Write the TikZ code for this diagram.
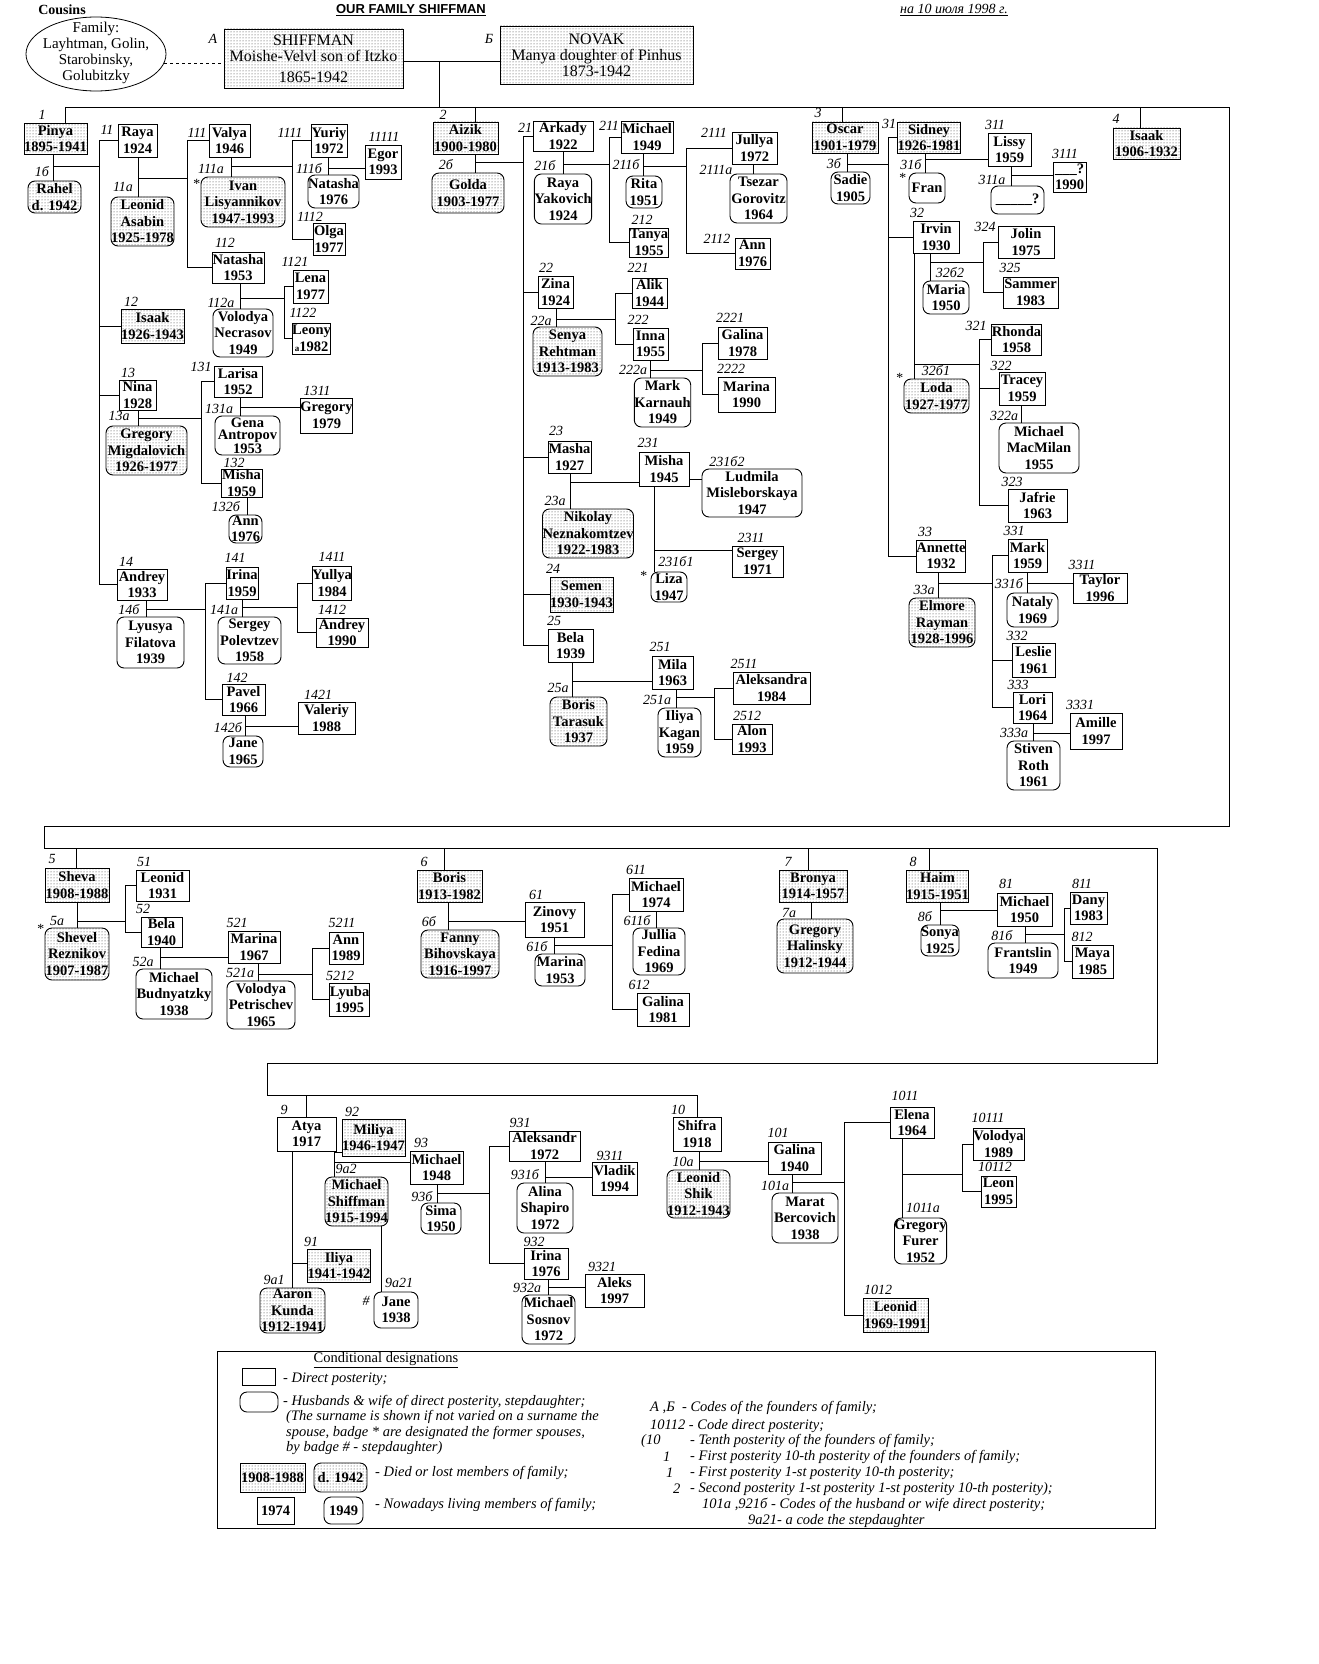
\documentclass[tikz,border=0pt]{standalone}
\usepackage{fontspec}
\setmainfont{Liberation Serif}
\newfontfamily\ttlfam{Liberation Sans}
\usetikzlibrary{patterns}
\newcommand\nmfont{\bfseries\fontsize{14.5}{16.5}\selectfont}
\newcommand\cdfont{\itshape\fontsize{14}{14}\selectfont}
\newcommand\fdfont{\fontsize{16}{16}\selectfont}
\newcommand\lgfont{\itshape\fontsize{14.5}{15}\selectfont}
\tikzset{
  ln/.style={line width=0.8pt},
  box/.style={draw, line width=0.9pt, inner sep=0pt, align=center, font=\nmfont},
  sq/.style={box},
  rd/.style={box, rounded corners=7pt},
  dd/.style={pattern=dots, pattern color=black!80},
  code/.style={inner sep=0pt, font=\cdfont},
  lg/.style={inner sep=0pt, anchor=west, font=\lgfont},
}
\newcommand\mkbox[7]{\node[#2, minimum width={#5-#3}, minimum height={#6-#4}] (#1) at ({(#3+#5)/2},{(#4+#6)/2}) {#7};}
\newcommand\mkmar[5]{\coordinate (#1) at (#4,#5); \draw[ln] (#2.south -| #1) -- (#3.north -| #1);}
\newcommand\mkkid[2]{\draw[ln] (#1) |- (#2.west);}
\newcommand\mkcode[4]{\node[code] (#1) at (#2,#3) {#4};}
\begin{document}
\begin{tikzpicture}[x=1pt,y=-1pt]
\fill[white] (0,0) rectangle (1318,1664);
\useasboundingbox (0,0) rectangle (1318,1664);

% ---------- header ----------
\node[inner sep=0pt, font=\bfseries\fontsize{14}{14}\selectfont] (cous) at (62,10) {Cousins};
\node[inner sep=0pt, font=\ttlfam\bfseries\fontsize{13}{13}\selectfont] (ttl) at (411,10) {\underline{OUR FAMILY SHIFFMAN}};
\node[inner sep=0pt, font=\itshape\fontsize{14}{14}\selectfont] (dt) at (954,10) {\underline{на 10 июля 1998 г.}};
\draw[ln] (96,54) ellipse [x radius=70, y radius=37];
\node[inner sep=0pt, align=center, font=\fontsize{15}{16}\selectfont] (ell) at (96,53) {Family:\\Layhtman, Golin,\\Starobinsky,\\Golubitzky};
\mkbox{nA}{sq,dd,font=\fdfont}{224}{29}{403}{88}{SHIFFMAN\\Moishe-Velvl son of Itzko\\[5pt]1865-1942}
\mkbox{nB}{sq,dd,font=\fdfont}{500}{26}{693}{84}{NOVAK\\Manya doughter of Pinhus\\1873-1942}
\mkcode{cA}{213}{39}{A}
\mkcode{cB}{489}{39}{Б}
\coordinate (dq) at (164,63);
\draw[ln,dashed] (dq) -- (dq -| nA.west);
\coordinate (fm) at (439,61);
\draw[ln] (nA.east |- fm) -- (nB.west |- fm);

% ---------- frame ----------
\coordinate (fA) at (65,107); \coordinate (fB) at (1229,107); \coordinate (fC) at (1229,826);
\coordinate (fD) at (44,826); \coordinate (fE) at (44,848); \coordinate (fF) at (1157,848);
\coordinate (fG) at (1157,1063); \coordinate (fH) at (267,1063); \coordinate (fI) at (267,1095);
\coordinate (fJ) at (697,1095);
\draw[ln] (fA) -- (fB) -- (fC) -- (fD) -- (fE) -- (fF) -- (fG) -- (fH) -- (fI) -- (fJ);
\draw[ln] (fm) -- (fm |- fA);

% ---------- branch 1 ----------
\mkbox{n1}{sq,dd}{24}{123}{87}{154}{Pinya\\1895-1941}
\mkbox{n1b}{rd,dd}{28}{181}{81}{213}{Rahel\\d. 1942}
\mkbox{n11}{sq}{118}{124}{157}{157}{Raya\\1924}
\mkbox{n11a}{rd,dd}{111}{197}{174}{246}{Leonid\\Asabin\\1925-1978}
\mkbox{n111}{sq}{209}{124}{250}{157}{Valya\\1946}
\mkbox{n111a}{rd,dd}{201}{177}{285}{227}{Ivan\\Lisyannikov\\1947-1993}
\mkbox{n112}{sq}{212}{252}{264}{283}{Natasha\\1953}
\mkbox{n112a}{rd}{213}{309}{273}{357}{Volodya\\Necrasov\\1949}
\mkbox{n1121}{sq}{293}{270}{328}{303}{Lena\\1977}
\mkbox{n1122}{sq}{293}{323}{330}{354}{Leony\\{\fontsize{9}{9}\selectfont a}1982}
\mkbox{n1111}{sq}{311}{124}{347}{157}{Yuriy\\1972}
\mkbox{n1111b}{rd}{308}{175}{359}{208}{Natasha\\1976}
\mkbox{n11111}{sq}{365}{145}{401}{179}{Egor\\1993}
\mkbox{n1112}{sq}{313}{223}{345}{255}{Olga\\1977}
\mkbox{n12}{sq,dd}{121}{309}{184}{343}{Isaak\\1926-1943}
\mkbox{n13}{sq}{119}{380}{156}{410}{Nina\\1928}
\mkbox{n13a}{rd,dd}{106}{426}{187}{475}{Gregory\\Migdalovich\\1926-1977}
\mkbox{n131}{sq}{214}{366}{262}{397}{Larisa\\1952}
\mkbox{n131a}{rd,font=\bfseries\fontsize{14.5}{12.5}\selectfont}{215}{416}{280}{455}{Gena\\Antropov\\1953}
\mkbox{n1311}{sq}{302}{398}{351}{433}{Gregory\\1979}
\mkbox{n132}{sq}{221}{469}{262}{497}{Misha\\1959}
\mkbox{n132b}{rd}{229}{515}{262}{543}{Ann\\1976}
\mkbox{n14}{sq}{117}{569}{167}{600}{Andrey\\1933}
\mkbox{n14b}{rd}{117}{617}{184}{668}{Lyusya\\Filatova\\1939}
\mkbox{n141}{sq}{226}{567}{258}{599}{Irina\\1959}
\mkbox{n141a}{rd}{218}{617}{281}{664}{Sergey\\Polevtzev\\1958}
\mkbox{n1411}{sq}{314}{566}{350}{600}{Yullya\\1984}
\mkbox{n1412}{sq}{316}{618}{368}{647}{Andrey\\1990}
\mkbox{n142}{sq}{222}{684}{265}{715}{Pavel\\1966}
\mkbox{n142b}{rd}{223}{736}{263}{767}{Jane\\1965}
\mkbox{n1421}{sq}{298}{702}{355}{734}{Valeriy\\1988}

\draw[ln] (fA) -- (fA |- n1.north);
\mkmar{m1}{n1}{n1b}{53}{166} \coordinate (b1) at (99,166); \draw[ln] (m1) -- (b1);
\mkkid{b1}{n11} \mkkid{b1}{n12} \mkkid{b1}{n13} \mkkid{b1}{n14}
\mkmar{m11}{n11}{n11a}{138}{178} \coordinate (b11) at (187,178); \draw[ln] (m11) -- (b11);
\mkkid{b11}{n111} \mkkid{b11}{n112}
\mkmar{m111}{n111}{n111a}{231}{166} \coordinate (b111) at (292,166); \draw[ln] (m111) -- (b111);
\mkkid{b111}{n1111} \mkkid{b111}{n1112}
\mkmar{m1111}{n1111}{n1111b}{328}{168} \draw[ln] (m1111) -- (m1111 -| n11111.west);
\mkmar{m112}{n112}{n112a}{240}{298} \coordinate (b112) at (284,298); \draw[ln] (m112) -- (b112);
\mkkid{b112}{n1121} \mkkid{b112}{n1122}
\mkmar{m13}{n13}{n13a}{138}{418} \coordinate (b13) at (201,418); \draw[ln] (m13) -- (b13);
\mkkid{b13}{n131} \mkkid{b13}{n132}
\mkmar{m131}{n131}{n131a}{240}{407} \draw[ln] (m131) -- (m131 -| n1311.west);
\mkmar{m132}{n132}{n132b}{247}{506}
\mkmar{m14}{n14}{n14b}{146}{609} \coordinate (b14) at (205,609); \draw[ln] (m14) -- (b14);
\mkkid{b14}{n141} \mkkid{b14}{n142}
\mkmar{m141}{n141}{n141a}{242}{607} \coordinate (b141) at (297,607); \draw[ln] (m141) -- (b141);
\mkkid{b141}{n1411} \mkkid{b141}{n1412}
\mkmar{m142}{n142}{n142b}{245}{726} \draw[ln] (m142) -- (m142 -| n1421.west);

\mkcode{c1}{42}{115}{1} \mkcode{c1b}{42}{172}{1б}
\mkcode{c11}{107}{130}{11} \mkcode{c11a}{123}{187}{11a}
\mkcode{c111}{197}{133}{111} \mkcode{c111a}{211}{169}{111a} \mkcode{s111a}{196}{184}{*}
\mkcode{c112}{225}{243}{112} \mkcode{c112a}{221}{303}{112a}
\mkcode{c1121}{295}{262}{1121} \mkcode{c1122}{303}{313}{1122}
\mkcode{c1111}{290}{133}{1111} \mkcode{c11111}{384}{137}{11111}
\mkcode{c1111b}{309}{169}{111б} \mkcode{c1112}{310}{217}{1112}
\mkcode{c12}{131}{302}{12} \mkcode{c13}{128}{373}{13} \mkcode{c13a}{119}{416}{13a}
\mkcode{c131}{201}{367}{131} \mkcode{c131a}{219}{409}{131a} \mkcode{c1311}{317}{391}{1311}
\mkcode{c132}{234}{463}{132} \mkcode{c132b}{226}{507}{132б}
\mkcode{c14}{126}{562}{14} \mkcode{c14b}{129}{610}{14б}
\mkcode{c141}{235}{558}{141} \mkcode{c141a}{224}{610}{141a}
\mkcode{c1411}{332}{557}{1411} \mkcode{c1412}{332}{610}{1412}
\mkcode{c142}{237}{678}{142} \mkcode{c142b}{228}{728}{142б} \mkcode{c1421}{318}{695}{1421}

% ---------- branch 2 ----------
\mkbox{n2}{sq,dd}{433}{122}{498}{154}{Aizik\\1900-1980}
\mkbox{n2b}{rd,dd}{432}{173}{504}{213}{Golda\\1903-1977}
\mkbox{n21}{sq}{533}{121}{593}{151}{Arkady\\1922}
\mkbox{n21b}{rd}{537}{174}{589}{224}{Raya\\Yakovich\\1924}
\mkbox{n211}{sq}{621}{121}{673}{153}{Michael\\1949}
\mkbox{n211b}{rd}{626}{176}{662}{208}{Rita\\1951}
\mkbox{n212}{sq}{631}{228}{667}{257}{Tanya\\1955}
\mkbox{n2111}{sq}{732}{132}{777}{164}{Jullya\\1972}
\mkbox{n2111a}{rd}{730}{174}{787}{223}{Tsezar\\Gorovitz\\1964}
\mkbox{n2112}{sq}{735}{238}{770}{269}{Ann\\1976}
\mkbox{n22}{sq}{538}{276}{573}{308}{Zina\\1924}
\mkbox{n22a}{rd,dd}{533}{327}{602}{376}{Senya\\Rehtman\\1913-1983}
\mkbox{n221}{sq}{632}{278}{667}{308}{Alik\\1944}
\mkbox{n222}{sq}{633}{328}{668}{360}{Inna\\1955}
\mkbox{n222a}{rd}{635}{378}{690}{427}{Mark\\Karnauh\\1949}
\mkbox{n2221}{sq}{718}{327}{767}{359}{Galina\\1978}
\mkbox{n2222}{sq}{718}{377}{775}{412}{Marina\\1990}
\mkbox{n23}{sq}{548}{441}{591}{473}{Masha\\1927}
\mkbox{n23a}{rd,dd}{543}{509}{633}{558}{Nikolay\\Neznakomtzev\\1922-1983}
\mkbox{n231}{sq}{639}{452}{689}{486}{Misha\\1945}
\mkbox{n231b2}{rd}{702}{469}{802}{517}{Ludmila\\Misleborskaya\\1947}
\mkbox{n2311}{sq}{732}{546}{783}{577}{Sergey\\1971}
\mkbox{n231b1}{rd}{651}{572}{687}{602}{Liza\\1947}
\mkbox{n24}{sq,dd}{550}{577}{613}{612}{Semen\\1930-1943}
\mkbox{n25}{sq}{548}{629}{593}{662}{Bela\\1939}
\mkbox{n25a}{rd,dd}{550}{697}{607}{746}{Boris\\Tarasuk\\1937}
\mkbox{n251}{sq}{652}{656}{693}{689}{Mila\\1963}
\mkbox{n251a}{rd}{658}{708}{701}{757}{Iliya\\Kagan\\1959}
\mkbox{n2511}{sq}{733}{672}{810}{704}{Aleksandra\\1984}
\mkbox{n2512}{sq}{732}{724}{772}{754}{Alon\\1993}

\coordinate (d2) at (475,107); \draw[ln] (d2) -- (d2 |- n2.north);
\mkmar{m2}{n2}{n2b}{475}{162} \coordinate (b2) at (523,162); \draw[ln] (m2) -- (b2);
\mkkid{b2}{n21} \mkkid{b2}{n22} \mkkid{b2}{n23} \mkkid{b2}{n24} \mkkid{b2}{n25}
\mkmar{m21}{n21}{n21b}{563}{164} \coordinate (b21) at (609,164); \draw[ln] (m21) -- (b21);
\mkkid{b21}{n211} \mkkid{b21}{n212}
\mkmar{m211}{n211}{n211b}{643}{166} \coordinate (b211) at (686,166); \draw[ln] (m211) -- (b211);
\mkkid{b211}{n2111} \mkkid{b211}{n2112}
\mkmar{m2111}{n2111}{n2111a}{753}{169}
\mkmar{m22}{n22}{n22a}{556}{319} \coordinate (b22) at (615,319); \draw[ln] (m22) -- (b22);
\mkkid{b22}{n221} \mkkid{b22}{n222}
\mkmar{m222}{n222}{n222a}{650}{370} \coordinate (b222) at (702,370); \draw[ln] (m222) -- (b222);
\mkkid{b222}{n2221} \mkkid{b222}{n2222}
\mkmar{m23}{n23}{n23a}{570}{482} \draw[ln] (m23) -- (m23 -| n231.west);
\coordinate (c231) at (689,479); \draw[ln] (c231) -- (c231 -| n231b2.west);
\mkmar{m231}{n231}{n231b1}{654}{550} \draw[ln] (m231) -- (m231 -| n2311.west);
\mkmar{m25}{n25}{n25a}{572}{681} \draw[ln] (m25) -- (m25 -| n251.west);
\mkmar{m251}{n251}{n251a}{676}{697} \coordinate (b251) at (714,697); \draw[ln] (m251) -- (b251);
\mkkid{b251}{n2511} \mkkid{b251}{n2512}

\mkcode{c2}{443}{115}{2} \mkcode{c2b}{446}{165}{2б}
\mkcode{c21}{525}{128}{21} \mkcode{c21b}{545}{166}{21б}
\mkcode{c211}{609}{126}{211} \mkcode{c211b}{626}{165}{211б} \mkcode{c212}{642}{220}{212}
\mkcode{c2111}{714}{133}{2111} \mkcode{c2111a}{716}{170}{2111a} \mkcode{c2112}{717}{239}{2112}
\mkcode{c22}{546}{268}{22} \mkcode{c22a}{541}{321}{22a}
\mkcode{c221}{638}{268}{221} \mkcode{c222}{638}{320}{222} \mkcode{c222a}{633}{370}{222a}
\mkcode{c2221}{730}{318}{2221} \mkcode{c2222}{731}{369}{2222}
\mkcode{c23}{556}{431}{23} \mkcode{c23a}{555}{501}{23a}
\mkcode{c231}{648}{443}{231} \mkcode{c231b2}{727}{462}{231б2}
\mkcode{c2311}{751}{538}{2311} \mkcode{c231b1}{676}{562}{231б1} \mkcode{s231b1}{643}{576}{*}
\mkcode{c24}{553}{569}{24} \mkcode{c25}{554}{621}{25} \mkcode{c25a}{558}{688}{25a}
\mkcode{c251}{660}{647}{251} \mkcode{c251a}{657}{700}{251a}
\mkcode{c2511}{744}{664}{2511} \mkcode{c2512}{747}{716}{2512}

% ---------- branch 3 & 4 ----------
\mkbox{n3}{sq,dd}{812}{122}{878}{153}{Oscar\\1901-1979}
\mkbox{n3b}{rd}{831}{172}{870}{204}{Sadie\\1905}
\mkbox{n31}{sq,dd}{898}{122}{960}{153}{Sidney\\1926-1981}
\mkbox{n31b}{rd}{909}{173}{945}{203}{Fran}
\mkbox{n311}{sq}{988}{133}{1031}{166}{Lissy\\1959}
\mkbox{n311a}{rd}{991}{186}{1044}{214}{\_\_\_\_\_?}
\mkbox{n3111}{sq}{1053}{162}{1086}{192}{\_\_\_?\\1990}
\mkbox{n32}{sq}{913}{221}{959}{253}{Irvin\\1930}
\mkbox{n32b2}{rd}{923}{281}{969}{314}{Maria\\1950}
\mkbox{n324}{sq}{998}{226}{1054}{258}{Jolin\\1975}
\mkbox{n325}{sq}{1003}{277}{1058}{308}{Sammer\\1983}
\mkbox{n32b1}{rd,dd}{904}{379}{969}{413}{Loda\\1927-1977}
\mkbox{n321}{sq}{997}{324}{1036}{355}{Rhonda\\1958}
\mkbox{n322}{sq}{999}{372}{1045}{405}{Tracey\\1959}
\mkbox{n322a}{rd}{999}{423}{1079}{473}{Michael\\MacMilan\\1955}
\mkbox{n323}{sq}{1008}{489}{1067}{522}{Jafrie\\1963}
\mkbox{n33}{sq}{918}{540}{964}{572}{Annette\\1932}
\mkbox{n33a}{rd,dd}{909}{598}{975}{647}{Elmore\\Rayman\\1928-1996}
\mkbox{n331}{sq}{1008}{539}{1047}{572}{Mark\\1959}
\mkbox{n331b}{rd}{1007}{593}{1058}{627}{Nataly\\1969}
\mkbox{n3311}{sq}{1073}{573}{1127}{603}{Taylor\\1996}
\mkbox{n332}{sq}{1012}{643}{1055}{677}{Leslie\\1961}
\mkbox{n333}{sq}{1013}{692}{1052}{723}{Lori\\1964}
\mkbox{n333a}{rd}{1007}{741}{1060}{790}{Stiven\\Roth\\1961}
\mkbox{n3331}{sq}{1070}{713}{1122}{749}{Amille\\1997}
\mkbox{n4}{sq,dd}{1113}{128}{1180}{159}{Isaak\\1906-1932}

\coordinate (d3) at (842,107); \draw[ln] (d3) -- (d3 |- n3.north);
\coordinate (d4) at (1140,107); \draw[ln] (d4) -- (d4 |- n4.north);
\mkmar{m3}{n3}{n3b}{847}{164} \coordinate (b3) at (888,164); \draw[ln] (m3) -- (b3);
\mkkid{b3}{n31} \mkkid{b3}{n32} \mkkid{b3}{n33}
\mkmar{m31}{n31}{n31b}{925}{159} \draw[ln] (m31) -- (m31 -| n311.west);
\mkmar{m311}{n311}{n311a}{1011}{175} \draw[ln] (m311) -- (m311 -| n3111.west);
\mkmar{m32a}{n32}{n32b2}{930}{262} \coordinate (b32a) at (983,262); \draw[ln] (m32a) -- (b32a);
\mkkid{b32a}{n324} \mkkid{b32a}{n325}
\mkmar{m32b}{n32}{n32b1}{914}{364} \coordinate (b32b) at (979,364); \draw[ln] (m32b) -- (b32b);
\mkkid{b32b}{n321} \mkkid{b32b}{n322} \mkkid{b32b}{n323}
\mkmar{m322}{n322}{n322a}{1021}{414}
\mkmar{m33}{n33}{n33a}{938}{583} \coordinate (b33) at (992,583); \draw[ln] (m33) -- (b33);
\mkkid{b33}{n331} \mkkid{b33}{n332} \mkkid{b33}{n333}
\mkmar{m331}{n331}{n331b}{1027}{583} \draw[ln] (m331) -- (m331 -| n3311.west);
\mkmar{m333}{n333}{n333a}{1033}{733} \draw[ln] (m333) -- (m333 -| n3331.west);

\mkcode{c3}{818}{113}{3} \mkcode{c3b}{834}{164}{3б}
\mkcode{c31}{889}{124}{31} \mkcode{c31b}{911}{165}{31б} \mkcode{s31b}{902}{178}{*}
\mkcode{c311}{995}{125}{311} \mkcode{c311a}{992}{180}{311a} \mkcode{c3111}{1065}{154}{3111}
\mkcode{c32}{917}{213}{32} \mkcode{c32b2}{950}{273}{32б2}
\mkcode{c324}{985}{227}{324} \mkcode{c325}{1010}{268}{325}
\mkcode{c32b1}{936}{371}{32б1} \mkcode{s32b1}{899}{378}{*}
\mkcode{c321}{976}{326}{321} \mkcode{c322}{1001}{366}{322} \mkcode{c322a}{1004}{416}{322a}
\mkcode{c323}{1012}{482}{323}
\mkcode{c33}{925}{532}{33} \mkcode{c33a}{924}{590}{33a}
\mkcode{c331}{1014}{531}{331} \mkcode{c331b}{1009}{584}{331б} \mkcode{c3311}{1082}{565}{3311}
\mkcode{c332}{1017}{636}{332} \mkcode{c333}{1018}{685}{333} \mkcode{c333a}{1014}{733}{333a}
\mkcode{c3331}{1080}{705}{3331}
\mkcode{c4}{1116}{119}{4}

% ---------- middle row ----------
\mkbox{n5}{sq,dd}{45}{868}{109}{902}{Sheva\\1908-1988}
\mkbox{n5a}{rd,dd}{45}{928}{109}{980}{Shevel\\Reznikov\\1907-1987}
\mkbox{n51}{sq}{136}{870}{189}{901}{Leonid\\1931}
\mkbox{n52}{sq}{141}{917}{182}{947}{Bela\\1940}
\mkbox{n52a}{rd}{136}{969}{212}{1019}{Michael\\Budnyatzky\\1938}
\mkbox{n521}{sq}{228}{931}{280}{963}{Marina\\1967}
\mkbox{n521a}{rd}{227}{981}{295}{1029}{Volodya\\Petrischev\\1965}
\mkbox{n5211}{sq}{329}{932}{363}{964}{Ann\\1989}
\mkbox{n5212}{sq}{330}{983}{369}{1016}{Lyuba\\1995}
\mkbox{n6}{sq,dd}{417}{870}{482}{902}{Boris\\1913-1982}
\mkbox{n6b}{rd,dd}{421}{930}{499}{978}{Fanny\\Bihovskaya\\1916-1997}
\mkbox{n61}{sq}{525}{902}{584}{937}{Zinovy\\1951}
\mkbox{n61b}{rd}{535}{954}{585}{986}{Marina\\1953}
\mkbox{n611}{sq}{629}{878}{683}{911}{Michael\\1974}
\mkbox{n611b}{rd}{633}{928}{685}{975}{Jullia\\Fedina\\1969}
\mkbox{n612}{sq}{637}{993}{689}{1026}{Galina\\1981}
\mkbox{n7}{sq,dd}{779}{870}{847}{902}{Bronya\\1914-1957}
\mkbox{n7a}{rd,dd}{777}{919}{853}{973}{Gregory\\Halinsky\\1912-1944}
\mkbox{n8}{sq,dd}{907}{870}{968}{902}{Haim\\1915-1951}
\mkbox{n8b}{rd}{921}{925}{959}{956}{Sonya\\1925}
\mkbox{n81}{sq}{997}{893}{1052}{926}{Michael\\1950}
\mkbox{n81b}{rd}{988}{943}{1058}{978}{Frantslin\\1949}
\mkbox{n811}{sq}{1070}{892}{1107}{924}{Dany\\1983}
\mkbox{n812}{sq}{1072}{945}{1113}{978}{Maya\\1985}

\coordinate (d5) at (76,848); \draw[ln] (d5) -- (d5 |- n5.north);
\coordinate (d6) at (444,848); \draw[ln] (d6) -- (d6 |- n6.north);
\coordinate (d7) at (808,848); \draw[ln] (d7) -- (d7 |- n7.north);
\coordinate (d8) at (929,848); \draw[ln] (d8) -- (d8 |- n8.north);
\mkmar{m5}{n5}{n5a}{77}{921} \coordinate (b5) at (125,921); \draw[ln] (m5) -- (b5);
\mkkid{b5}{n51} \mkkid{b5}{n52}
\mkmar{m52}{n52}{n52a}{160}{957} \draw[ln] (m52) -- (m52 -| n521.west);
\mkmar{m521}{n521}{n521a}{258}{974} \coordinate (b521) at (312,974); \draw[ln] (m521) -- (b521);
\mkkid{b521}{n5211} \mkkid{b521}{n5212}
\mkmar{m6}{n6}{n6b}{448}{921} \draw[ln] (m6) -- (m6 -| n61.west);
\mkmar{m61}{n61}{n61b}{554}{945} \coordinate (b61) at (612,945); \draw[ln] (m61) -- (b61);
\mkkid{b61}{n611} \mkkid{b61}{n612}
\mkmar{m611}{n611}{n611b}{656}{920}
\mkmar{m7}{n7}{n7a}{811}{910}
\mkmar{m8}{n8}{n8b}{940}{910} \draw[ln] (m8) -- (m8 -| n81.west);
\mkmar{m81}{n81}{n81b}{1025}{934} \coordinate (b81) at (1064,934); \draw[ln] (m81) -- (b81);
\mkkid{b81}{n811} \mkkid{b81}{n812}

\mkcode{c5}{52}{859}{5} \mkcode{c5a}{57}{921}{5a} \mkcode{s5a}{40}{929}{*}
\mkcode{c51}{144}{862}{51} \mkcode{c52}{143}{909}{52} \mkcode{c52a}{143}{962}{52a}
\mkcode{c521}{237}{923}{521} \mkcode{c521a}{240}{973}{521a}
\mkcode{c5211}{342}{923}{5211} \mkcode{c5212}{340}{976}{5212}
\mkcode{c6}{424}{862}{6} \mkcode{c6b}{429}{922}{6б}
\mkcode{c61}{536}{895}{61} \mkcode{c61b}{537}{947}{61б}
\mkcode{c611}{636}{870}{611} \mkcode{c611b}{637}{921}{611б} \mkcode{c612}{639}{985}{612}
\mkcode{c7}{788}{862}{7} \mkcode{c7a}{789}{913}{7a}
\mkcode{c8}{913}{862}{8} \mkcode{c8b}{925}{917}{8б}
\mkcode{c81}{1006}{884}{81} \mkcode{c81b}{1002}{936}{81б}
\mkcode{c811}{1082}{884}{811} \mkcode{c812}{1082}{937}{812}

% ---------- bottom row ----------
\mkbox{n9}{sq}{277}{1117}{336}{1151}{Atya\\1917}
\mkbox{n92}{sq,dd}{342}{1119}{405}{1156}{Miliya\\1946-1947}
\mkbox{n93}{sq}{410}{1151}{463}{1184}{Michael\\1948}
\mkbox{n9a2}{rd,dd}{325}{1177}{388}{1226}{Michael\\Shiffman\\1915-1994}
\mkbox{n9a1}{rd,dd}{260}{1288}{325}{1333}{Aaron\\Kunda\\1912-1941}
\mkbox{n91}{sq,dd}{308}{1249}{370}{1282}{Iliya\\1941-1942}
\mkbox{n9a21}{rd}{374}{1292}{418}{1328}{Jane\\1938}
\mkbox{n93b}{rd}{421}{1203}{461}{1234}{Sima\\1950}
\mkbox{n931}{sq}{509}{1131}{580}{1161}{Aleksandr\\1972}
\mkbox{n931b}{rd}{517}{1183}{573}{1233}{Alina\\Shapiro\\1972}
\mkbox{n9311}{sq}{592}{1162}{637}{1195}{Vladik\\1994}
\mkbox{n932}{sq}{524}{1248}{568}{1279}{Irina\\1976}
\mkbox{n932a}{rd}{522}{1295}{575}{1344}{Michael\\Sosnov\\1972}
\mkbox{n9321}{sq}{585}{1274}{644}{1307}{Aleks\\1997}
\mkbox{n10}{sq}{673}{1117}{721}{1151}{Shifra\\1918}
\mkbox{n10a}{rd,dd}{667}{1170}{730}{1218}{Leonid\\Shik\\1912-1943}
\mkbox{n101}{sq}{768}{1142}{821}{1174}{Galina\\1940}
\mkbox{n101a}{rd}{772}{1193}{838}{1243}{Marat\\Bercovich\\1938}
\mkbox{n1011}{sq}{890}{1107}{934}{1138}{Elena\\1964}
\mkbox{n10111}{sq}{973}{1128}{1024}{1160}{Volodya\\1989}
\mkbox{n10112}{sq}{981}{1176}{1016}{1207}{Leon\\1995}
\mkbox{n1011a}{rd}{897}{1218}{944}{1264}{Gregory\\Furer\\1952}
\mkbox{n1012}{sq,dd}{863}{1298}{928}{1332}{Leonid\\1969-1991}

\draw[ln] (fJ) -- (fJ |- n10.north);
\coordinate (d9) at (306,1095); \draw[ln] (d9) -- (d9 |- n9.north);
\mkmar{m9a}{n9}{n9a1}{292}{1263} \draw[ln] (m9a) -- (m9a -| n91.west);
\mkmar{m9b}{n9}{n9a2}{334}{1162} \draw[ln] (m9b) -- (m9b -| n93.west);
\coordinate (m9c) at (334,1152); \draw[ln] (m9c) -- (m9c -| n92.west);
\mkmar{m9a2}{n9a2}{n9a21}{381}{1260}
\mkmar{m93}{n93}{n93b}{437}{1193} \coordinate (b93) at (489,1193); \draw[ln] (m93) -- (b93);
\mkkid{b93}{n931} \mkkid{b93}{n932}
\mkmar{m931}{n931}{n931b}{545}{1177} \draw[ln] (m931) -- (m931 -| n9311.west);
\mkmar{m932}{n932}{n932a}{548}{1287} \draw[ln] (m932) -- (m932 -| n9321.west);
\mkmar{m10}{n10}{n10a}{699}{1161} \draw[ln] (m10) -- (m10 -| n101.west);
\mkmar{m101}{n101}{n101a}{792}{1182} \coordinate (b101) at (844,1182); \draw[ln] (m101) -- (b101);
\mkkid{b101}{n1011} \mkkid{b101}{n1012}
\mkmar{m1011}{n1011}{n1011a}{902}{1174} \coordinate (b1011) at (962,1174); \draw[ln] (m1011) -- (b1011);
\mkkid{b1011}{n10111} \mkkid{b1011}{n10112}

\mkcode{c9}{284}{1110}{9} \mkcode{c92}{352}{1112}{92} \mkcode{c93}{421}{1143}{93}
\mkcode{c9a2}{346}{1169}{9a2} \mkcode{c91}{311}{1242}{91} \mkcode{c9a1}{274}{1280}{9a1}
\mkcode{c9a21}{399}{1283}{9a21} \mkcode{s9a21}{366}{1301}{\#}
\mkcode{c93b}{422}{1197}{93б} \mkcode{c931}{520}{1123}{931} \mkcode{c931b}{525}{1175}{931б}
\mkcode{c9311}{610}{1156}{9311} \mkcode{c932}{534}{1242}{932} \mkcode{c932a}{527}{1288}{932a}
\mkcode{c9321}{602}{1267}{9321}
\mkcode{c10}{678}{1110}{10} \mkcode{c10a}{683}{1162}{10a}
\mkcode{c101}{778}{1133}{101} \mkcode{c101a}{775}{1186}{101a}
\mkcode{c1011}{905}{1096}{1011} \mkcode{c10111}{988}{1118}{10111} \mkcode{c10112}{995}{1167}{10112}
\mkcode{c1011a}{923}{1208}{1011a} \mkcode{c1012}{878}{1290}{1012}

% ---------- legend ----------
\draw[ln] (217,1351) rectangle (1155,1528);
\node[inner sep=0pt, font=\fontsize{14.5}{15}\selectfont] (lg0) at (386,1360) {\underline{Conditional designations}};
\mkbox{lgA}{sq}{242}{1368}{275}{1385}{}
\mkbox{lgB}{rd}{240}{1392}{278}{1412}{}
\mkbox{lgC}{sq,dd}{240}{1463}{305}{1492}{\raisebox{-7pt}{1908-1988}}
\mkbox{lgD}{rd,dd}{314}{1463}{367}{1492}{\raisebox{-7pt}{d. 1942}}
\mkbox{lgE}{sq}{257}{1497}{294}{1524}{\raisebox{-6pt}{1974}}
\mkbox{lgF}{rd}{324}{1497}{363}{1524}{\raisebox{-6pt}{1949}}
\node[lg] (lt1) at (283,1379) {- Direct posterity;};
\node[lg] (lt2) at (283,1402) {- Husbands \& wife of direct posterity, stepdaughter;};
\node[lg] (lt3) at (286,1417) {(The surname is shown if not varied on a surname the};
\node[lg] (lt4) at (286,1433) {spouse, badge * are designated the former spouses,};
\node[lg] (lt5) at (286,1448) {by badge \# - stepdaughter)};
\node[lg] (lt6) at (375,1473) {- Died or lost members of family;};
\node[lg] (lt7) at (375,1505) {- Nowadays living members of family;};
\node[lg] (lr1) at (650,1408) {A ,Б\ \ - Codes of the founders of family;};
\node[lg] (lr2) at (650,1426) {10112 - Code direct posterity;};
\node[lg] (lr3a) at (641,1441) {(10};
\node[lg] (lr3) at (690,1441) {- Tenth posterity of the founders of family;};
\node[lg] (lr4a) at (663,1457) {1};
\node[lg] (lr4) at (690,1457) {- First posterity 10-th posterity of the founders of family;};
\node[lg] (lr5a) at (666,1473) {1};
\node[lg] (lr5) at (690,1473) {- First posterity 1-st posterity 10-th posterity;};
\node[lg] (lr6a) at (673,1489) {2};
\node[lg] (lr6) at (690,1489) {- Second posterity 1-st posterity 1-st posterity 10-th posterity);};
\node[lg] (lr7) at (702,1505) {101a ,921б - Codes of the husband or wife direct posterity;};
\node[lg] (lr8) at (748,1521) {9a21- a code the stepdaughter};
\end{tikzpicture}
\end{document}
